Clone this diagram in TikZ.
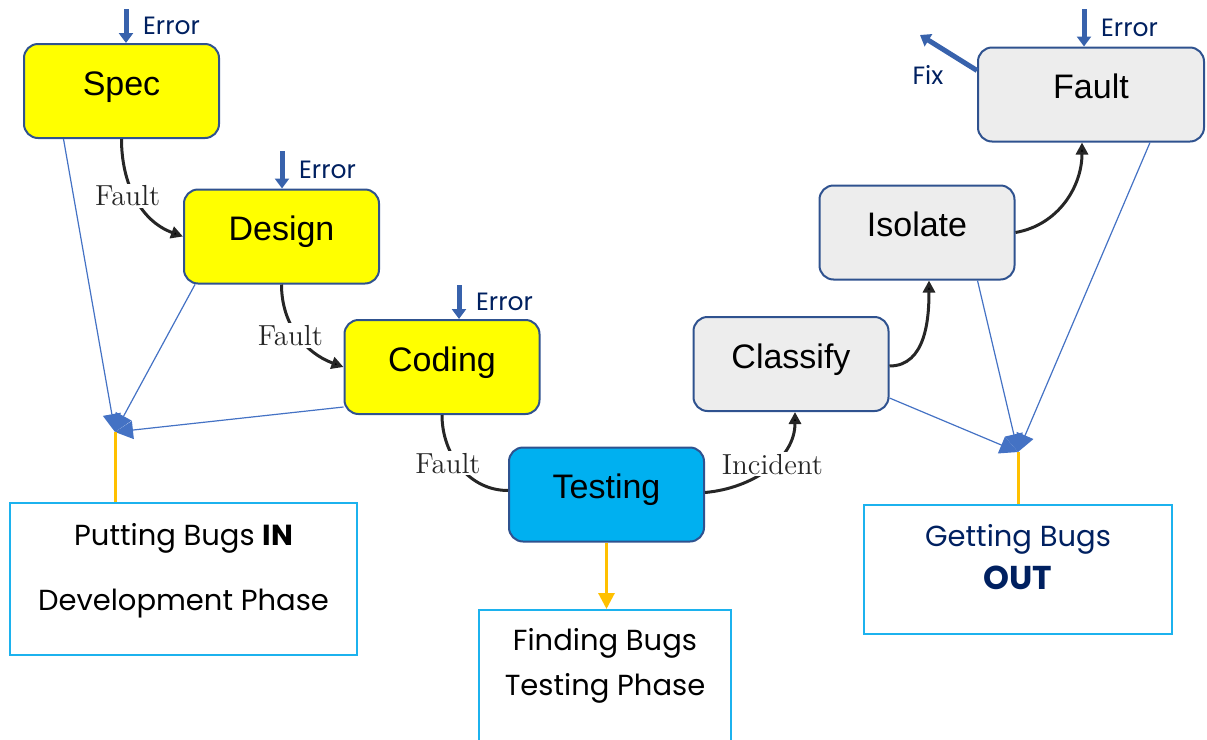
\documentclass[tikz,border=0pt]{standalone}
\usepackage{fontspec}
\setsansfont{Liberation Sans}
\newfontfamily\geofont{Poppins}
\usetikzlibrary{arrows.meta,positioning}

\definecolor{boxline}{HTML}{2F528F}
\definecolor{specfill}{HTML}{FFFF00}
\definecolor{testfill}{HTML}{00B0F0}
\definecolor{greyfill}{HTML}{EDEDED}
\definecolor{flowblue}{HTML}{4472C4}
\definecolor{errblue}{HTML}{3862AC}
\definecolor{navy}{HTML}{002060}
\definecolor{bugline}{HTML}{1CB2EE}
\definecolor{amber}{HTML}{FFC000}
\definecolor{curveink}{HTML}{262626}

\begin{document}
\begin{tikzpicture}[x=0.5pt, y=-0.5pt, thick,
    phase node/.style={rectangle,rounded corners=7pt,draw=boxline,line width=1pt,
      minimum width=97.5pt,minimum height=47pt,text height=12pt,text depth=8pt,
      font=\sffamily\fontsize{17}{20}\selectfont},
    fault edge/.style={draw=curveink,line width=1.5pt},
    fault label/.style={fill=white,inner sep=1pt,font=\fontsize{14.5}{16}\selectfont,text=black!85},
    error arrow/.style={draw=errblue,line width=2.5pt,-{Triangle[length=5pt,width=7pt]}},
    error label/.style={text=navy,font=\geofont\fontsize{12.5}{14}\selectfont},
    bug flow/.style={draw=flowblue,line width=0.6pt,-{Triangle[length=9pt,width=9pt]}},
    amber line/.style={draw=amber,line width=1.5pt},
    bug box/.style={rectangle,draw=bugline,line width=1pt},
    bug text/.style={align=center,font=\geofont\fontsize{14.5}{22.5}\selectfont}]

  \useasboundingbox (0,0) rectangle (1207,740);

  % the phase boxes
  \node[phase node,fill=specfill] (spec) at (121.5,91) {Spec};
  \node[phase node,fill=specfill] (design) at (281.5,236.5) {Design};
  \node[phase node,fill=specfill] (coding) at (442,367) {Coding};
  \node[phase node,fill=testfill] (testing) at (606.5,494.5) {Testing};
  \node[phase node,fill=greyfill] (classify) at (791,364) {Classify};
  \node[phase node,fill=greyfill] (isolate) at (917,232.5) {Isolate};
  \node[phase node,fill=greyfill,minimum width=113pt] (fault) at (1091,94.5) {Fault};

  % errors coming in
  \coordinate (specerr) at (126,9);
  \coordinate (designerr) at (282,151);
  \coordinate (codingerr) at (459,285);
  \coordinate (faulterr) at (1084,9);
  \draw[error arrow] (specerr) -- node[error label,right=4pt] (specerrtxt) {Error} (specerr |- spec.north);
  \draw[error arrow] (designerr) -- node[error label,right=4pt] (designerrtxt) {Error} (designerr |- design.north);
  \draw[error arrow] (codingerr) -- node[error label,right=4pt] (codingerrtxt) {Error} (codingerr |- coding.north);
  \draw[error arrow] (faulterr) -- node[error label,right=4pt] (faulterrtxt) {Error} (faulterr |- fault.north);

  \coordinate (fixend) at (920,35);
  \draw[error arrow] ([yshift=12pt]fault.west) -- (fixend);
  \node[error label] (fixtxt) at (928,75) {Fix};

  % the chain of curves
  \path[fault edge]
    (spec.south) edge[out=-90,in=160,-{Triangle[length=6pt,width=6pt]}]
        node[fault label,pos=0.47,xshift=-3.5pt] (fault1) {Fault} (design.west)
    (design.south) edge[out=-90,in=160,-{Triangle[length=6pt,width=6pt]}]
        node[fault label,pos=0.5,xshift=-4pt] (fault2) {Fault} (coding.west)
    (coding.south) edge[out=-90,in=180]
        node[fault label,pos=0.45,xshift=-4.5pt] (fault3) {Fault} ([yshift=2pt]testing.west)
    ([yshift=1pt]testing.east) edge[out=5,in=-90,-{Triangle[length=6pt,width=6pt]}]
        node[fault label,pos=0.55] (incident) {Incident} ([xshift=2pt]classify.south)
    ([yshift=-1pt]classify.east) edge[out=0,in=-90,-{Triangle[length=6pt,width=6pt]}]
        ([xshift=6pt]isolate.south)
    (isolate.east) edge[out=10,in=-90,-{Triangle[length=6pt,width=6pt]}]
        ([xshift=-4.5pt]fault.south);

  % bottom boxes
  \node[bug box,minimum width=173.5pt,minimum height=76pt] (inbox) at (183.5,579) {};
  \node[bug text,font=\geofont\fontsize{14.5}{32.5}\selectfont] (intxt) at (183.5,571) {Putting Bugs \textbf{IN}\\Development Phase};
  \node[bug box,minimum width=126pt,minimum height=80pt] (findbox) at (605,690) {};
  \node[bug text] (findtxt) at (605,666) {Finding Bugs\\Testing Phase};
  \node[bug box,minimum width=154pt,minimum height=64.5pt] (outbox) at (1018,569.5) {};
  \node[bug text,text=navy,font=\geofont\fontsize{14.5}{21.5}\selectfont] (outtxt) at (1018,557) {Getting Bugs\\\fontsize{16.5}{21.5}\selectfont\textbf{OUT}};

  % converging lines
  \coordinate (inpt) at (115,432);
  \coordinate (outpt) at (1018,452);
  \draw[bug flow] ([xshift=-29pt]spec.south) -- (inpt);
  \draw[bug flow] ([xshift=6pt]design.south west) -- (inpt);
  \draw[bug flow] ([yshift=4pt]coding.south west) -- (inpt);
  \draw[bug flow] ([yshift=-17pt]classify.east) -- (outpt);
  \draw[bug flow] ([xshift=-19pt]isolate.south east) -- (outpt);
  \draw[bug flow] ([xshift=29.5pt]fault.south) -- (outpt);
  \draw[amber line] (inpt) -- (inpt |- inbox.north);
  \draw[amber line] (outpt) -- (outpt |- outbox.north);
  \draw[amber line,-{Triangle[length=8pt,width=8pt]}] (testing.south) -- (testing.south |- findbox.north);
\end{tikzpicture}
\end{document}
